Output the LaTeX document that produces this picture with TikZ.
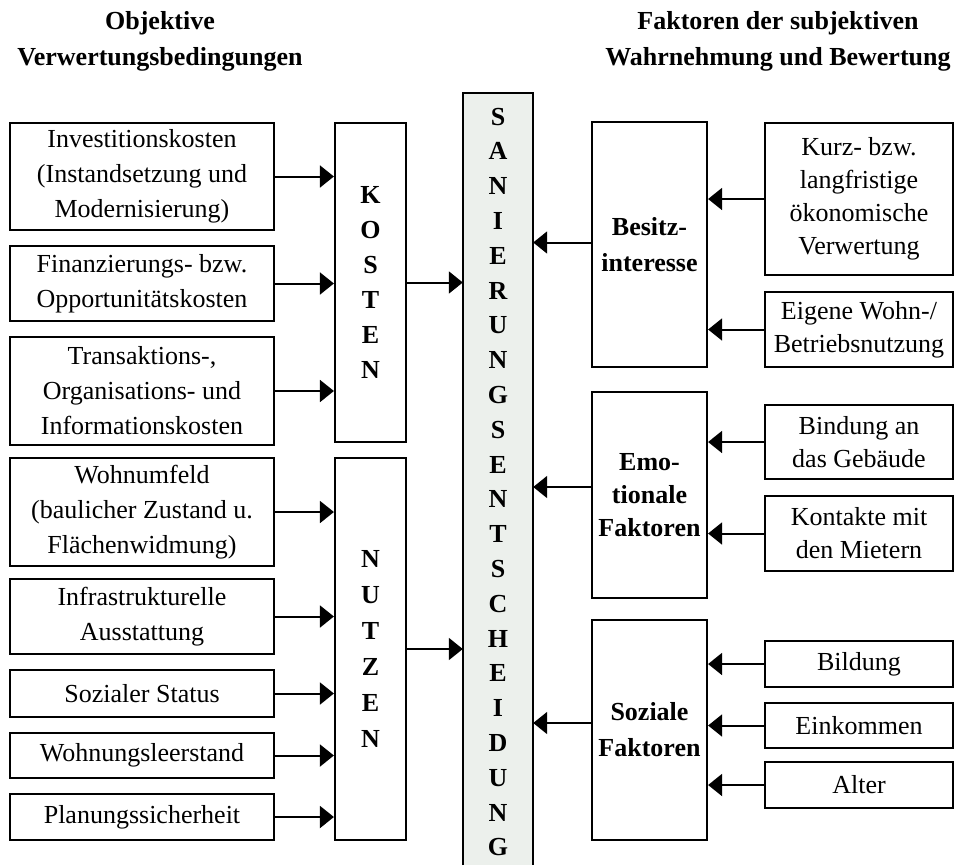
\documentclass[tikz,border=0pt]{standalone}
\usepackage{fontspec}
\setmainfont{Liberation Serif}
\usetikzlibrary{arrows.meta}
\definecolor{barfill}{RGB}{236,240,236}
\begin{document}
\begin{tikzpicture}[x=1pt,y=-1pt,
  box/.style={draw, line width=2.2pt, align=center, inner sep=0pt, font=\fontsize{26}{35}\selectfont},
  rbox/.style={box, font=\fontsize{26}{33}\selectfont},
  bbox/.style={box, font=\fontsize{26}{36}\selectfont\bfseries},
  vbox/.style={box, font=\fontsize{26}{35}\selectfont\bfseries},
  arr/.style={line width=2pt, -{Triangle[length=14pt,width=22pt]}},
  hdr/.style={align=center, inner sep=0pt, font=\fontsize{26}{36}\selectfont\bfseries}
]
\useasboundingbox (0,0) rectangle (955,865);

% headers
\node[hdr] (h1) at (160,41) {Objektive\\Verwertungsbedingungen};
\node[hdr] (h2) at (778,41) {Faktoren der subjektiven\\Wahrnehmung und Bewertung};

% left boxes
\node[box, minimum width=264pt, minimum height=107pt] (l1) at (142,176.5) {Investitionskosten\\(Instandsetzung und\\Modernisierung)};
\node[box, minimum width=264pt, minimum height=75pt] (l2) at (142,283.5) {Finanzierungs- bzw.\\Opportunitätskosten};
\node[box, minimum width=264pt, minimum height=108pt] (l3) at (142,391) {Transaktions-,\\Organisations- und\\Informationskosten};
\node[box, minimum width=264pt, minimum height=108pt] (l4) at (142,512) {Wohnumfeld\\(baulicher Zustand u.\\Flächenwidmung)};
\node[box, minimum width=264pt, minimum height=75pt] (l5) at (142,616.5) {Infrastrukturelle\\Ausstattung};
\node[box, minimum width=264pt, minimum height=47pt] (l6) at (142,693.5) {Sozialer Status};
\node[box, minimum width=264pt, minimum height=45pt] (l7) at (142,755.5) {Wohnungsleerstand};
\node[box, minimum width=264pt, minimum height=46pt] (l8) at (142,817) {Planungssicherheit};

% KOSTEN / NUTZEN
\node[vbox, minimum width=71pt, minimum height=319pt] (kosten) at (370.5,282.5) {K\\O\\S\\T\\E\\N};
\node[vbox, minimum width=71pt, minimum height=382pt, font=\fontsize{26}{36}\selectfont\bfseries] (nutzen) at (370.5,649) {N\\U\\T\\Z\\E\\N};

% central bar
\node[fill=barfill, minimum width=70pt, minimum height=772pt, inner sep=0pt] (bar) at (498,479) {};
\draw[line width=2.2pt] (bar.south west) -- (bar.north west) -- (bar.north east) -- (bar.south east);
\node[align=center, inner sep=0pt, font=\fontsize{26}{34.8}\selectfont\bfseries] (bartext) at (498,482)
  {S\\A\\N\\I\\E\\R\\U\\N\\G\\S\\E\\N\\T\\S\\C\\H\\E\\I\\D\\U\\N\\G};

% middle right boxes
\node[bbox, minimum width=115pt, minimum height=245pt] (besitz) at (649.5,244.5) {Besitz-\\interesse};
\node[bbox, minimum width=115pt, minimum height=206pt, font=\fontsize{26}{33}\selectfont\bfseries] (emo) at (649.5,495) {Emo-\\tionale\\Faktoren};
\node[bbox, minimum width=115pt, minimum height=220pt] (soz) at (649.5,730) {Soziale\\Faktoren};

% right boxes
\node[rbox, minimum width=188pt, minimum height=152pt] (r1) at (859,199) {Kurz- bzw.\\langfristige\\ökonomische\\Verwertung};
\node[rbox, minimum width=188pt, minimum height=75pt] (r2) at (859,329.5) {Eigene Wohn-/\\Betriebsnutzung};
\node[rbox, minimum width=188pt, minimum height=74pt] (r3) at (859,442) {Bindung an\\das Gebäude};
\node[rbox, minimum width=188pt, minimum height=75pt] (r4) at (859,533.5) {Kontakte mit\\den Mietern};
\node[rbox, minimum width=188pt, minimum height=46pt] (r5) at (859,664) {Bildung};
\node[rbox, minimum width=188pt, minimum height=45pt] (r6) at (859,725.5) {Einkommen};
\node[rbox, minimum width=188pt, minimum height=46pt] (r7) at (859,785) {Alter};

% arrows left -> KOSTEN / NUTZEN
\foreach \n in {l1,l2,l3} \draw[arr] (\n.east) -- (\n.east -| kosten.west);
\foreach \n in {l4,l5,l6,l7,l8} \draw[arr] (\n.east) -- (\n.east -| nutzen.west);
\draw[arr] (kosten.east) -- (kosten.east -| bar.west);
\draw[arr] (nutzen.east) -- (nutzen.east -| bar.west);

% arrows middle right -> bar
\draw[arr] ([yshift=2pt]besitz.west) -- ([yshift=2pt]besitz.west -| bar.east);
\draw[arr] ([yshift=8pt]emo.west) -- ([yshift=8pt]emo.west -| bar.east);
\draw[arr] ([yshift=7pt]soz.west) -- ([yshift=7pt]soz.west -| bar.east);

% arrows right -> middle right
\foreach \n in {r1,r2} \draw[arr] (\n.west) -- (\n.west -| besitz.east);
\foreach \n in {r3,r4} \draw[arr] (\n.west) -- (\n.west -| emo.east);
\foreach \n in {r5,r6,r7} \draw[arr] (\n.west) -- (\n.west -| soz.east);
\end{tikzpicture}
\end{document}
